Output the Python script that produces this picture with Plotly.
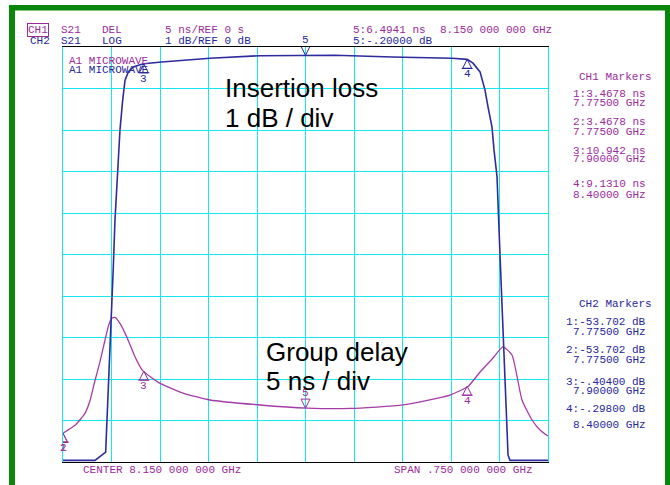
import numpy as np
import plotly.graph_objects as go

# ---------------- data ----------------
# CH1: S21 group delay (ns) vs frequency (GHz)
delay_freq_ghz = [7.775, 7.7936, 7.809, 7.8168, 7.8245, 7.8322, 7.840, 7.845, 7.8503, 7.8554,
                  7.8631, 7.8735, 7.8863, 7.8976, 7.9095, 7.9224, 7.9327, 7.9606, 8.0023,
                  8.0796, 8.1523, 8.2188, 8.3008, 8.3735, 8.4013, 8.4199, 8.4399, 8.4554,
                  8.4693, 8.4848, 8.5003, 8.5126, 8.525]
delay_ns = [3.47, 4.42, 5.86, 7.41, 9.82, 12.09, 14.70, 16.31, 17.31, 17.43,
            16.71, 15.10, 12.69, 11.08, 10.30, 9.60, 9.20, 8.31, 7.47,
            6.87, 6.49, 6.45, 6.87, 8.07, 9.10, 10.84, 12.53, 13.86,
            12.89, 7.47, 5.06, 3.86, 3.13]

# CH2: S21 insertion loss (dB) vs frequency (GHz)
loss_freq_ghz = [7.775, 7.8245, 7.841, 7.8441, 7.8477, 7.8503, 7.8528, 7.8554, 7.858, 7.8631,
                 7.8673, 7.8709, 7.876, 7.8837, 7.8941, 7.900, 7.9276, 7.9663, 8.0023,
                 8.0796, 8.150, 8.1956, 8.2838, 8.3765, 8.400, 8.409, 8.4199, 8.4245,
                 8.4276, 8.4323, 8.4384, 8.4415, 8.4462, 8.4508, 8.4554, 8.4601, 8.4632,
                 8.4662, 8.4895, 8.525]
loss_db = [-53.70, -40.0, -9.76, -8.67, -7.30, -6.34, -5.30, -4.17, -3.33, -2.00,
           -1.28, -0.80, -0.60, -0.48, -0.43, -0.404, -0.36, -0.31, -0.27,
           -0.21, -0.20, -0.20, -0.24, -0.27, -0.298, -0.39, -0.60, -0.84,
           -1.04, -1.45, -1.93, -2.48, -3.13, -5.01, -6.89, -8.77, -9.83,
           -15.0, -40.0, -50.0]

# marker table
marker_ids = ["1", "2", "3", "4", "5"]
marker_freq_ghz = [7.775, 7.775, 7.900, 8.400, 8.150]
marker_delay_ns = [3.4678, 3.4678, 10.942, 9.1310, 6.4941]
marker_loss_db = [-53.702, -53.702, -0.40400, -0.29800, -0.20000]

center_ghz = 8.150
span_ghz = 0.750
delay_per_div = 5      # ns/div, ref 0 s at bottom
loss_per_div = 1       # dB/div, ref 0 dB at top
n_div = 10

# ---------------- styling ----------------
W, H = 670, 485
L, R, T, B = 63, 548, 47, 462
PURPLE_T = "#9B2A9B"
BLUE_T = "#26269A"
PURPLE_L = "#A43CA8"
BLUE_L = "#2C2C9E"
CYAN = "#12E8F0"
GREEN = "#0A870A"
MONO = "Liberation Mono"

f_start = center_ghz - span_ghz / 2
f_stop = center_ghz + span_ghz / 2
d_top = delay_per_div * n_div
l_bot = -loss_per_div * n_div


def px(xp):
    return (xp - L) / (R - L)


def py(yp):
    return (B - yp) / (B - T)


fig = go.Figure()

fig.add_trace(go.Scatter(
    x=delay_freq_ghz, y=delay_ns, mode="lines", yaxis="y",
    line=dict(color=PURPLE_L, width=1.3, shape="spline", smoothing=0.5),
    hoverinfo="skip", showlegend=False))

loss_disp = np.clip(np.array(loss_db), l_bot + 0.04, 0)
fig.add_trace(go.Scatter(
    x=loss_freq_ghz, y=loss_disp, mode="lines", yaxis="y2",
    line=dict(color=BLUE_L, width=1.6),
    hoverinfo="skip", showlegend=False))

shapes = []
annots = []

# green page with white interior and white outer margin => green frame
for (x0, x1, y0, y1) in [(15, 665, 10.5, 495),   # interior
                         (-20, 9, -20, 500),      # left outer margin
                         (-20, 700, -20, 5)]:     # top outer margin
    shapes.append(dict(type="rect", xref="paper", yref="paper",
                       x0=px(x0), x1=px(x1), y0=py(y1), y1=py(y0),
                       line=dict(width=0), fillcolor="white", layer="below"))


def tri(xa, ya, yref, color, down=False):
    # tip of triangle at the data point
    if down:
        path = "M0,0 L-4.5,9 L4.5,9 Z"
    else:
        path = "M0,0 L-4.5,-9 L4.5,-9 Z M-5.5,-9 L5.5,-9"
    shapes.append(dict(type="path", xref="x", yref=yref, xsizemode="pixel", ysizemode="pixel",
                       xanchor=xa, yanchor=ya, path=path,
                       line=dict(color=color, width=1), fillcolor="rgba(0,0,0,0)", layer="above"))


def mlabel(xa, ya, yref, text, color, yshift):
    annots.append(dict(x=xa, y=ya, xref="x", yref=yref, text=text, showarrow=False,
                       yshift=yshift, font=dict(family=MONO, size=11, color=color),
                       xanchor="center", yanchor="middle"))


# CH1 markers (delay)
for mid, f, d in zip(marker_ids, marker_freq_ghz, marker_delay_ns):
    if mid == "5":
        tri(f, d, "y", PURPLE_T, down=True)
        mlabel(f, d, "y", mid, PURPLE_T, 15)
    else:
        tri(f, d, "y", PURPLE_T)
        mlabel(f, d, "y", mid, PURPLE_T, -15)

# CH2 markers (loss)
for mid, f, v in zip(marker_ids, marker_freq_ghz, marker_loss_db):
    if v < l_bot:
        shapes.append(dict(type="path", xref="x", yref="y2", xsizemode="pixel", ysizemode="pixel",
                           xanchor=f, yanchor=l_bot, path="M-2,-10 L2.5,-1 L7,-10",
                           line=dict(color=BLUE_T, width=1), layer="above"))
        continue
    if mid == "5":
        tri(f, v, "y2", BLUE_T, down=True)
        mlabel(f, v, "y2", mid, BLUE_T, 15)
    else:
        tri(f, v, "y2", BLUE_T)
        mlabel(f, v, "y2", mid, BLUE_T, -15)

# reference position indicators
shapes.append(dict(type="path", xref="x", yref="y", xsizemode="pixel", ysizemode="pixel",
                   xanchor=f_start, yanchor=0, path="M-7,3 L-1,0 L-7,-3 Z",
                   line=dict(color="#333333", width=1), fillcolor="#cccccc", layer="above"))
shapes.append(dict(type="path", xref="x", yref="y2", xsizemode="pixel", ysizemode="pixel",
                   xanchor=f_stop, yanchor=0, path="M1,0 L7,2.5 L7,-2.5 Z",
                   line=dict(color="#333333", width=1), fillcolor="#ffffff", layer="above"))


def txt(x, y, s, color, anchor="left", size=11, family=MONO, **kw):
    annots.append(dict(x=px(x), y=py(y), xref="paper", yref="paper", text=s, showarrow=False,
                       xanchor=anchor, yanchor="middle",
                       font=dict(family=family, size=size, color=color), **kw))


# header
txt(27, 30.5, "CH1", PURPLE_T, bordercolor=PURPLE_T, borderwidth=1, borderpad=0)
txt(59, 30.5, "S21", PURPLE_T)
txt(100, 30.5, "DEL", PURPLE_T)
txt(163, 30.5, "5 ns/REF 0 s", PURPLE_T)
txt(28, 41, "CH2", BLUE_T)
txt(59, 41, "S21", BLUE_T)
txt(100, 41, "LOG", BLUE_T)
txt(163, 41, "1 dB/REF 0 dB", BLUE_T)
txt(351, 30.5, "5:%.4f ns" % marker_delay_ns[4], PURPLE_T)
txt(495.5, 30.5, "8.150 000 000 GHz", PURPLE_T, anchor="center")
txt(351, 41, "5:-.20000 dB", BLUE_T)
txt(67, 60.5, "A1 MICROWAVE", PURPLE_T)
txt(67, 69.5, "A1 MICROWAVE", BLUE_T)

# right marker panels
txt(577, 77, "CH1 Markers", PURPLE_T)
ch1_lines = [("1:3.4678 ns", 94), ("7.77500 GHz", 103), ("2:3.4678 ns", 122), ("7.77500 GHz", 132),
             ("3:10.942 ns", 151), ("7.90000 GHz", 159), ("4:9.1310 ns", 184), ("8.40000 GHz", 195)]
for s, y in ch1_lines:
    txt(648, y, s, PURPLE_T, anchor="right")
txt(577, 304, "CH2 Markers", BLUE_T)
ch2_lines = [("1:-53.702 dB", 322), ("7.77500 GHz", 332), ("2:-53.702 dB", 350), ("7.77500 GHz", 360),
             ("3:-.40400 dB", 382), ("7.90000 GHz", 391), ("4:-.29800 dB", 409), ("8.40000 GHz", 425)]
for s, y in ch2_lines:
    txt(648, y, s, BLUE_T, anchor="right")

# footer
txt(161.5, 470, "CENTER 8.150 000 000 GHz", PURPLE_T, anchor="center")
txt(463.5, 470, "SPAN .750 000 000 GHz", PURPLE_T, anchor="center")

# big overlay labels
BIG = "Liberation Sans"
txt(223, 88, "Insertion loss", "#000000", size=26, family=BIG)
txt(223, 118, "1 dB / div", "#000000", size=26, family=BIG)
txt(264, 352, "Group delay", "#000000", size=26, family=BIG)
txt(264, 381, "5 ns / div", "#000000", size=26, family=BIG)

fig.update_layout(
    width=W, height=H,
    margin=dict(l=L, r=W - R, t=T, b=H - B, pad=0),
    paper_bgcolor=GREEN, plot_bgcolor="white",
    xaxis=dict(range=[f_start, f_stop], tick0=f_start, dtick=span_ghz / n_div,
               showticklabels=False, ticks="", gridcolor=CYAN, gridwidth=1.3,
               zeroline=False, showline=True, linecolor="#000000", linewidth=1.2,
               mirror=True, layer="below traces"),
    yaxis=dict(range=[0, d_top], tick0=0, dtick=delay_per_div, showticklabels=False, ticks="",
               gridcolor=CYAN, gridwidth=1.3, zeroline=False, showline=True, linecolor=CYAN,
               linewidth=1.3, mirror=True, layer="below traces"),
    yaxis2=dict(range=[l_bot, 0], overlaying="y", showgrid=False, showticklabels=False,
                ticks="", zeroline=False, showline=False),
    shapes=shapes, annotations=annots, showlegend=False,
)

fig.write_html("out.html", config={"displayModeBar": False},
               post_script="document.body.style.margin='0';document.body.style.overflow='hidden';")
